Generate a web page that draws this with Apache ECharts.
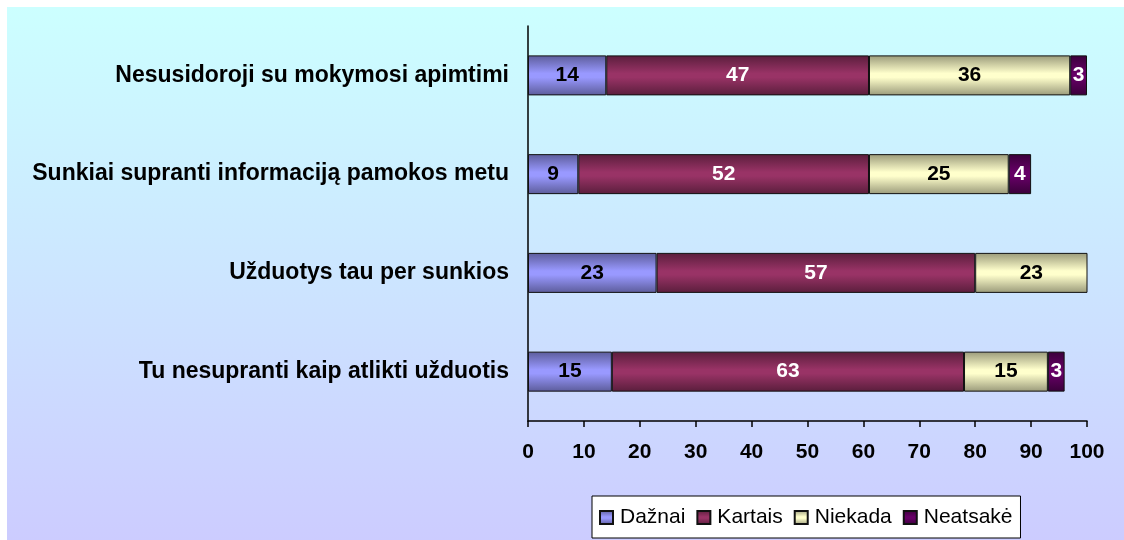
<!DOCTYPE html>
<html>
<head>
<meta charset="utf-8">
<script src="https://cdn.jsdelivr.net/npm/echarts@6/dist/echarts.min.js"></script>
<style>
html,body{margin:0;padding:0;background:#fff;}
#c{width:1124px;height:540px;}
</style>
</head>
<body>
<div id="c"></div>
<script>
var categories = [
  'Nesusidoroji su mokymosi apimtimi',
  'Sunkiai supranti informaciją pamokos metu',
  'Užduotys tau per sunkios',
  'Tu nesupranti kaip atlikti užduotis'
];
var seriesNames = ['Dažnai', 'Kartais', 'Niekada', 'Neatsakė'];
var dazhnai  = [14, 9, 23, 15];
var kartais  = [47, 52, 57, 63];
var niekada  = [36, 25, 23, 15];
var neatsake = [3, 4, null, 3];
var xTicks = {min: 0, max: 100, interval: 10};

var FONT = '"Liberation Sans", Arial, sans-serif';

function grad(edge, mid) {
  return new echarts.graphic.LinearGradient(0, 0, 0, 1, [
    {offset: 0, color: edge},
    {offset: 0.45, color: mid},
    {offset: 0.55, color: mid},
    {offset: 1, color: edge}
  ]);
}
var styles = [
  {fill: grad('#5c5c9a', '#9999ff'), label: '#000'},
  {fill: grad('#5a1e3c', '#993366'), label: '#fff'},
  {fill: grad('#9a9a7a', '#ffffcc'), label: '#000'},
  {fill: grad('#3a003a', '#660066'), label: '#fff'}
];
var values = [dazhnai, kartais, niekada, neatsake];

var series = seriesNames.map(function (name, i) {
  return {
    name: name,
    type: 'bar',
    stack: 'total',
    barWidth: 40,
    data: values[i],
    itemStyle: {color: styles[i].fill, borderColor: '#111', borderWidth: 1},
    label: {
      show: true,
      position: 'inside',
      color: styles[i].label,
      fontFamily: FONT,
      fontWeight: 'bold',
      fontSize: 21
    },
    emphasis: {disabled: true}
  };
});

var chart = echarts.init(document.getElementById('c'));
chart.setOption({
  animation: false,
  graphic: [{
    type: 'rect',
    z: -10,
    silent: true,
    shape: {x: 7, y: 7, width: 1117, height: 533},
    style: {
      fill: new echarts.graphic.LinearGradient(0, 0, 0, 1, [
        {offset: 0, color: '#ccffff'},
        {offset: 1, color: '#ccccff'}
      ])
    }
  }],
  grid: {left: 528, right: 37, top: 26, bottom: 119, containLabel: false},
  legend: {
    data: seriesNames,
    left: 592,
    top: 496,
    orient: 'horizontal',
    itemWidth: 13,
    itemHeight: 13,
    itemGap: 11,
    padding: [11, 8, 10, 7],
    backgroundColor: '#fff',
    borderColor: '#000',
    borderWidth: 1,
    borderRadius: 0,
    icon: 'rect',
    textStyle: {fontFamily: FONT, fontSize: 21, color: '#000', padding: [0, 0, 0, 2]}
  },
  xAxis: {
    type: 'value',
    min: xTicks.min,
    max: xTicks.max,
    interval: xTicks.interval,
    axisLine: {show: true, lineStyle: {color: '#000', width: 1.5}},
    axisTick: {show: true, length: 6, lineStyle: {color: '#000', width: 1.5}},
    splitLine: {show: false},
    axisLabel: {fontFamily: FONT, fontWeight: 'bold', fontSize: 21, color: '#000', margin: 21}
  },
  yAxis: {
    type: 'category',
    data: categories,
    inverse: true,
    axisLine: {show: true, lineStyle: {color: '#000', width: 1.5}},
    axisTick: {show: false},
    axisLabel: {fontFamily: FONT, fontWeight: 'bold', fontSize: 23, color: '#000', margin: 19}
  },
  series: series
});
</script>
</body>
</html>
